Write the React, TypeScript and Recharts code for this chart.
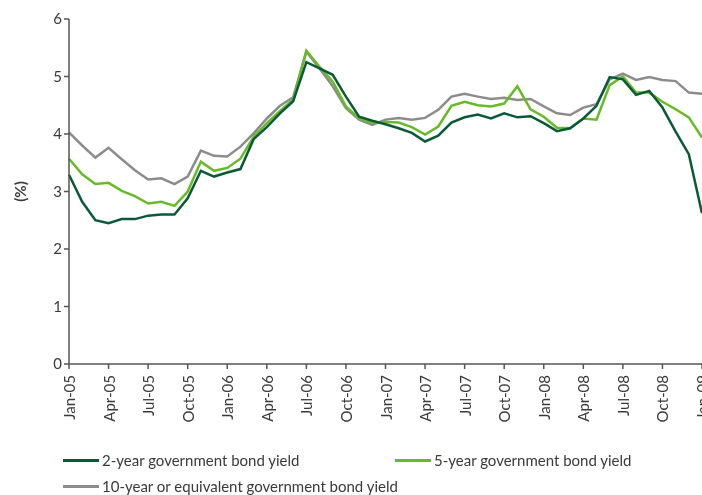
import { LineChart, Line, XAxis, YAxis } from 'recharts';

const months = [
  'Jan-05', 'Feb-05', 'Mar-05', 'Apr-05', 'May-05', 'Jun-05', 'Jul-05', 'Aug-05', 'Sep-05', 'Oct-05', 'Nov-05', 'Dec-05',
  'Jan-06', 'Feb-06', 'Mar-06', 'Apr-06', 'May-06', 'Jun-06', 'Jul-06', 'Aug-06', 'Sep-06', 'Oct-06', 'Nov-06', 'Dec-06',
  'Jan-07', 'Feb-07', 'Mar-07', 'Apr-07', 'May-07', 'Jun-07', 'Jul-07', 'Aug-07', 'Sep-07', 'Oct-07', 'Nov-07', 'Dec-07',
  'Jan-08', 'Feb-08', 'Mar-08', 'Apr-08', 'May-08', 'Jun-08', 'Jul-08', 'Aug-08', 'Sep-08', 'Oct-08', 'Nov-08', 'Dec-08',
  'Jan-09',
];

const yield2y = [
  3.29, 2.82, 2.5, 2.45, 2.52, 2.52, 2.58, 2.6, 2.6, 2.88, 3.36, 3.26,
  3.33, 3.39, 3.91, 4.12, 4.36, 4.57, 5.25, 5.14, 5.03, 4.65, 4.3, 4.23,
  4.17, 4.1, 4.02, 3.87, 3.97, 4.2, 4.29, 4.34, 4.27, 4.36, 4.29, 4.31,
  4.19, 4.05, 4.1, 4.27, 4.49, 4.99, 4.95, 4.68, 4.75, 4.46, 4.04, 3.65,
  2.62,
];

const yield5y = [
  3.57, 3.3, 3.13, 3.15, 3.01, 2.92, 2.79, 2.82, 2.75, 3.0, 3.52, 3.36,
  3.41, 3.57, 3.95, 4.19, 4.4, 4.6, 5.45, 5.17, 4.91, 4.48, 4.27, 4.2,
  4.21, 4.2, 4.12, 3.99, 4.13, 4.49, 4.56, 4.5, 4.48, 4.53, 4.83, 4.43,
  4.3, 4.11, 4.1, 4.27, 4.25, 4.85, 5.0, 4.72, 4.72, 4.56, 4.43, 4.29,
  3.94,
];

const yield10y = [
  4.03, 3.8, 3.59, 3.76, 3.56, 3.37, 3.21, 3.23, 3.13, 3.26, 3.71, 3.62,
  3.61, 3.78, 4.01, 4.27, 4.49, 4.64, 5.43, 5.14, 4.83, 4.45, 4.25, 4.16,
  4.25, 4.28, 4.25, 4.28, 4.42, 4.65, 4.7, 4.65, 4.61, 4.63, 4.59, 4.61,
  4.48, 4.36, 4.33, 4.46, 4.52, 4.95, 5.05, 4.94, 4.99, 4.94, 4.92, 4.72,
  4.7,
];

const yTicks = [0, 1, 2, 3, 4, 5, 6];

const COLORS = { y2: '#0a5a38', y5: '#67bb27', y10: '#8c8c8c' };
const FONT = 'Lato, "DejaVu Sans", sans-serif';
const TEXT = '#3a3a3a';
const AXIS = '#555555';

const data = months.map((m, i) => ({
  date: m,
  y2: yield2y[i],
  y5: yield5y[i],
  y10: yield10y[i],
}));

function MonthTick(props: any) {
  const { x, y, payload } = props;
  return (
    <text
      transform={`translate(${x},${y + 4}) rotate(-90)`}
      textAnchor="end"
      dominantBaseline="central"
      fontSize={15}
      fontFamily={FONT}
      fill={TEXT}
    >
      {payload.value}
    </text>
  );
}

function LegendItem({ color, label, left, top }: { color: string; label: string; left: number; top: number }) {
  return (
    <div style={{ position: 'absolute', left, top, display: 'flex', alignItems: 'center' }}>
      <div style={{ width: 36, height: 3, background: color, marginRight: 3 }} />
      <span style={{ fontSize: 15, fontFamily: FONT, color: TEXT, whiteSpace: 'nowrap' }}>{label}</span>
    </div>
  );
}

export default function App() {
  // fixed so the clipped chart never adds scrollbars to the page
  return (
    <div style={{ position: 'fixed', left: 8, top: 8, width: 694, height: 487, overflow: 'hidden' }}>
      <LineChart
        width={720}
        height={425}
        data={data}
        margin={{ top: 11, right: 26, left: 0, bottom: 4 }}
      >
        <XAxis
          dataKey="date"
          interval={2}
          height={65}
          tick={<MonthTick />}
          tickSize={5}
          axisLine={{ stroke: AXIS, strokeWidth: 1.5 }}
          tickLine={{ stroke: AXIS, strokeWidth: 1.5 }}
        />
        <YAxis
          width={61}
          domain={[0, 6]}
          ticks={yTicks}
          tickSize={5}
          tick={{ fontSize: 15, fontFamily: FONT, fill: TEXT }}
          axisLine={{ stroke: AXIS, strokeWidth: 1.5 }}
          tickLine={{ stroke: AXIS, strokeWidth: 1.5 }}
          label={{
            content: ({ viewBox }: any) => {
              const cx = viewBox.x + 12;
              const cy = viewBox.y + viewBox.height / 2;
              return (
                <text
                  transform={`translate(${cx},${cy}) rotate(-90)`}
                  textAnchor="middle"
                  dominantBaseline="central"
                  fontSize={15}
                  fontWeight="bold"
                  fontFamily={FONT}
                  fill={TEXT}
                >
                  (%)
                </text>
              );
            },
          }}
        />
        <Line type="linear" dataKey="y10" stroke={COLORS.y10} strokeWidth={2.5} dot={false} isAnimationActive={false} />
        <Line type="linear" dataKey="y5" stroke={COLORS.y5} strokeWidth={2.5} dot={false} isAnimationActive={false} />
        <Line type="linear" dataKey="y2" stroke={COLORS.y2} strokeWidth={2.5} dot={false} isAnimationActive={false} />
      </LineChart>
      <LegendItem color={COLORS.y2} label="2-year government bond yield" left={55} top={443} />
      <LegendItem color={COLORS.y5} label="5-year government bond yield" left={387} top={443} />
      <LegendItem color={COLORS.y10} label="10-year or equivalent government bond yield" left={55} top={469} />
    </div>
  );
}
